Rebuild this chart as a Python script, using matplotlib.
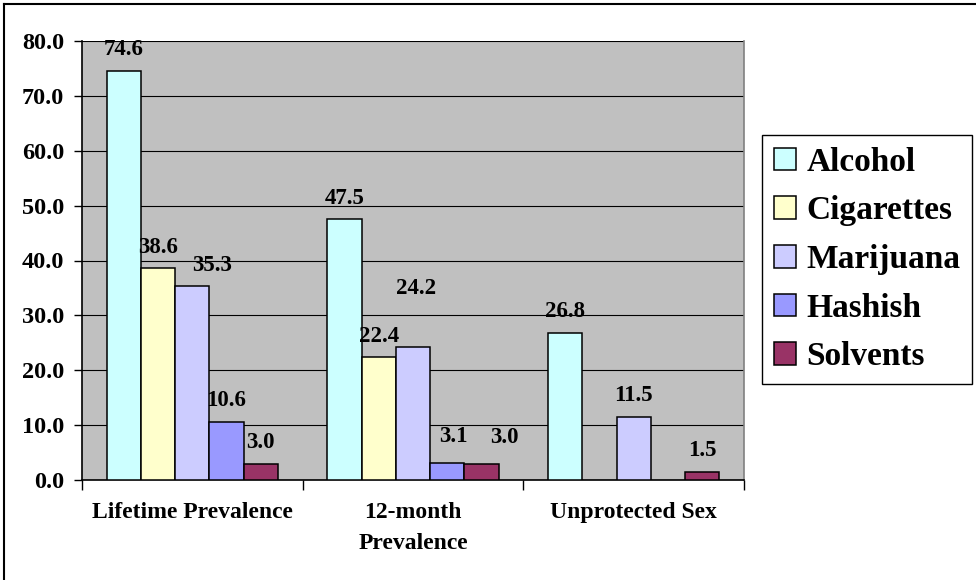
import numpy as np
import matplotlib
matplotlib.use("Agg")
import matplotlib.pyplot as plt
from matplotlib.lines import Line2D
from matplotlib.patches import Patch

categories = ["Lifetime Prevalence", "12-month\nPrevalence", "Unprotected Sex"]
series = ["Alcohol", "Cigarettes", "Marijuana", "Hashish", "Solvents"]
alcohol = [74.6, 47.5, 26.8]
cigarettes = [38.6, 22.4, np.nan]
marijuana = [35.3, 24.2, 11.5]
hashish = [10.6, 3.1, np.nan]
solvents = [3.0, 3.0, 1.5]
yticks = [0, 10, 20, 30, 40, 50, 60, 70, 80]

values = [alcohol, cigarettes, marijuana, hashish, solvents]
colors = ["#CCFFFF", "#FFFFCC", "#CCCCFF", "#9999FF", "#993366"]
# label offsets (pixels) relative to default position, per series per category
label_shift = {
    (2, 0): (20, 0),
    (2, 1): (3, -38),
    (3, 1): (6, -5),
    (4, 1): (23, -5),
}

plt.rcParams['font.family'] = ['Liberation Serif', 'DejaVu Serif']
plt.rcParams['font.weight'] = 'bold'

W, H = 976, 580
fig = plt.figure(figsize=(W / 100, H / 100), dpi=100)
ax = fig.add_axes([82 / W, 1 - 480 / H, (744 - 82) / W, (480 - 41) / H])
ax.set_facecolor("#C0C0C0")

x = np.arange(len(categories))
w = 0.155
for i, (name, vals, c) in enumerate(zip(series, values, colors)):
    pos = x + (i - 2) * w
    ax.bar(pos, vals, width=w, color=c, edgecolor="black", linewidth=1.1,
           zorder=3, label=name)
    for j, v in enumerate(vals):
        if np.isnan(v):
            continue
        dx, dy = label_shift.get((i, j), (0, 0))
        ax.annotate(f"{v:.1f}", (pos[j], v), xytext=(dx, 21 - dy),
                    textcoords="offset pixels", ha="center", va="center",
                    fontsize=16.5, fontweight="bold", zorder=5)

ax.set_xlim(-0.5, 2.5)
ax.set_ylim(0, 80)
ax.set_yticks(yticks)
ax.set_yticklabels([f"{t:.1f}" for t in yticks], fontsize=17.5, fontweight="bold")
ax.yaxis.grid(True, color="black", linewidth=0.8, zorder=1)
ax.set_axisbelow(True)

ax.set_xticks(x)
ax.set_xticklabels(categories, fontsize=17, fontweight="bold", linespacing=1.65)
ax.set_xticks([-0.5, 0.5, 1.5, 2.5], minor=True)
ax.tick_params(axis="x", which="major", length=0, pad=15.5)
ax.tick_params(axis="x", which="minor", length=7, width=1, color="black")
ax.tick_params(axis="y", length=6, width=1, pad=7, color="black")

for s in ["left", "bottom"]:
    ax.spines[s].set_color("black")
    ax.spines[s].set_linewidth(1.2)
ax.spines["top"].set_visible(False)
ax.spines["right"].set_color("#808080")
ax.spines["right"].set_linewidth(1.2)

handles = [Patch(facecolor=c, edgecolor="black", linewidth=1.1) for c in colors]
leg = fig.legend(handles, series, loc="upper left",
                 bbox_to_anchor=(762 / W, 1 - 135 / H),
                 prop={"family": "Liberation Serif", "weight": "bold", "size": 24},
                 frameon=True, fancybox=False, edgecolor="black", framealpha=1,
                 handlelength=0.68, handleheight=0.68, handletextpad=0.3,
                 labelspacing=0.53, borderpad=0.35, borderaxespad=0)
leg.get_frame().set_linewidth(1.0)

fig.add_artist(Line2D([4 / W, 1.0], [1 - 4 / H, 1 - 4 / H], color="black",
                      linewidth=1.5, transform=fig.transFigure))
fig.add_artist(Line2D([4 / W, 4 / W], [0, 1 - 4 / H], color="black",
                      linewidth=1.5, transform=fig.transFigure))

fig.savefig("out.png", dpi=100)
